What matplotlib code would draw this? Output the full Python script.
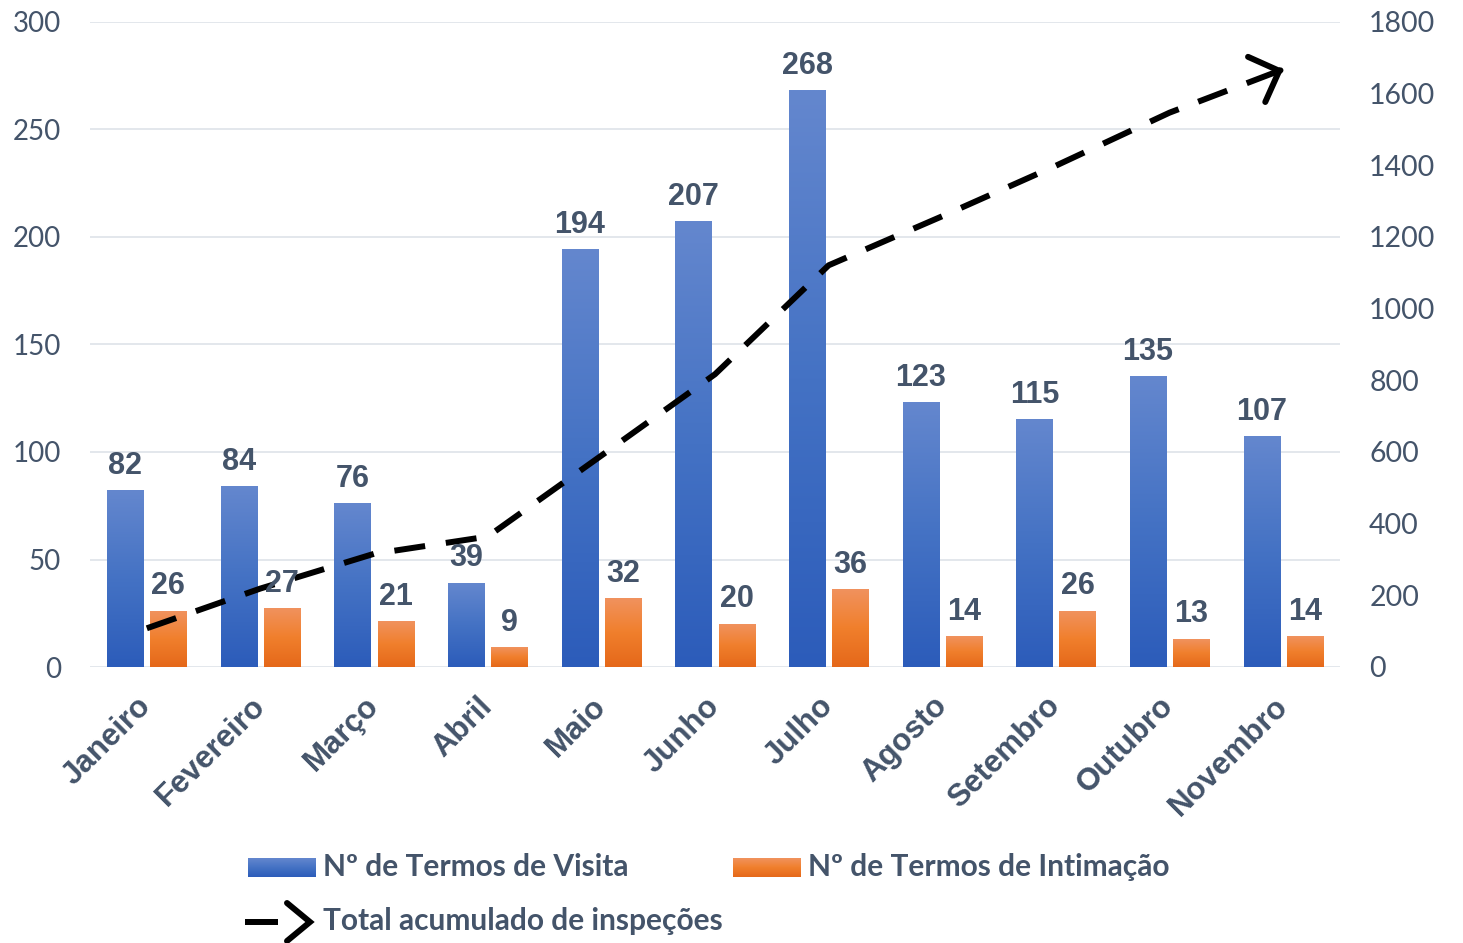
import matplotlib.pyplot as plt
import numpy as np
from matplotlib.colors import LinearSegmentedColormap

meses = ['Janeiro', 'Fevereiro', 'Março', 'Abril', 'Maio', 'Junho', 'Julho',
         'Agosto', 'Setembro', 'Outubro', 'Novembro']
termos_visita = [82, 84, 76, 39, 194, 207, 268, 123, 115, 135, 107]
termos_intimacao = [26, 27, 21, 9, 32, 20, 36, 14, 26, 13, 14]
total_acumulado = [108, 219, 316, 364, 590, 817, 1121, 1258, 1399, 1547, 1668]

left_ticks = [0, 50, 100, 150, 200, 250, 300]
right_ticks = [0, 200, 400, 600, 800, 1000, 1200, 1400, 1600, 1800]

TXT = '#44546A'
GRID = '#E1E5EB'
cmap_azul = LinearSegmentedColormap.from_list('azul', ['#2C5CBA', '#4472C4', '#6487CE'])
cmap_laranja = LinearSegmentedColormap.from_list('laranja', ['#E5681A', '#F07F2C', '#F1925E'])
grad = np.linspace(0, 1, 256).reshape(-1, 1)

W, H = 1463, 943
fig = plt.figure(figsize=(W / 100, H / 100), dpi=100)
ax = fig.add_axes([90 / W, 1 - 667 / H, 1250 / W, 645 / H])
ax2 = ax.twinx()

x = np.arange(len(meses))
largura = 0.317
off = 0.19

def barras_gradiente(pos, vals, cmap):
    rects = ax.bar(pos, vals, largura, color='none', zorder=2)
    for r in rects:
        x0, y0 = r.get_x(), r.get_y()
        ax.imshow(grad, extent=[x0, x0 + r.get_width(), y0, y0 + r.get_height()],
                  origin='lower', aspect='auto', cmap=cmap, zorder=2)
    return rects

barras_gradiente(x - off, termos_visita, cmap_azul)
barras_gradiente(x + off, termos_intimacao, cmap_laranja)

ax.set_xlim(-0.5, len(meses) - 0.5)
ax.set_ylim(0, 300)
ax.set_yticks(left_ticks)
ax.grid(axis='y', color=GRID, linewidth=1.3, zorder=0)
ax.set_axisbelow(True)
for s in ax.spines.values():
    s.set_visible(False)
for s in ax2.spines.values():
    s.set_visible(False)
ax.tick_params(axis='y', length=0, pad=21, labelsize=20, labelcolor=TXT)
ax.tick_params(axis='x', length=0, pad=25)
for lab in ax.get_yticklabels():
    lab.set_fontfamily('Lato')

ax.set_xticks(x)
ax.set_xticklabels(meses, rotation=45, ha='right', va='center', rotation_mode='anchor',
                   fontsize=22.5, fontweight='bold', color=TXT, family='Liberation Sans')

# linha acumulada (eixo direito)
ax2.set_ylim(0, 1800)
ax2.set_yticks(right_ticks)
ax2.tick_params(axis='y', length=0, pad=21, labelsize=20.5, labelcolor=TXT)
for lab in ax2.get_yticklabels():
    lab.set_fontfamily('Lato')
ax2.plot(x, total_acumulado, color='black', linewidth=4.3,
         linestyle=(0, (5.2, 3.5)), zorder=3)
xa = x[-2] + 0.97 * (x[-1] - x[-2])
ya = total_acumulado[-2] + 0.97 * (total_acumulado[-1] - total_acumulado[-2])
ax2.annotate('', xy=(x[-1], total_acumulado[-1]), xytext=(xa, ya),
             arrowprops=dict(arrowstyle='->, head_length=0.87, head_width=0.87',
                             color='black', lw=4.3, shrinkA=0, shrinkB=0,
                             mutation_scale=20, capstyle='round'))

# rótulos de dados por cima da linha
for xi, v in zip(x - off, termos_visita):
    ax2.annotate(str(v), xy=(xi, v), xycoords=ax.transData, xytext=(0, 12),
                 textcoords='offset points', ha='center', va='baseline',
                 fontsize=22, fontweight='bold', color=TXT, family='Liberation Sans', zorder=5)
for xi, v in zip(x + off, termos_intimacao):
    ax2.annotate(str(v), xy=(xi, v), xycoords=ax.transData, xytext=(0, 12),
                 textcoords='offset points', ha='center', va='baseline',
                 fontsize=22, fontweight='bold', color=TXT, family='Liberation Sans', zorder=5)

# legenda desenhada em coordenadas de pixel
lax = fig.add_axes([0, 0, 1, 1], zorder=-1)
lax.axis('off')
lax.imshow(grad[::-1], extent=[248, 316, 877, 858], aspect='auto', cmap=cmap_azul)
lax.imshow(grad[::-1], extent=[733, 801, 877, 858], aspect='auto', cmap=cmap_laranja)
lax.set_xlim(0, W)
lax.set_ylim(H, 0)
leg_kw = dict(fontsize=21.5, fontweight='bold', color=TXT, family='Lato', va='center', ha='left')
lax.text(323, 867, 'Nº de Termos de Visita', **leg_kw)
lax.text(808, 867, 'Nº de Termos de Intimação', **leg_kw)
lax.text(323, 921, 'Total acumulado de inspeções', **leg_kw)
lax.plot([245, 278], [922, 922], color='black', linewidth=4.3, solid_capstyle='butt')
lax.plot([287, 310, 287], [903, 922, 941], color='black', linewidth=4.3,
         solid_capstyle='round', solid_joinstyle='miter')

fig.savefig('out.png', dpi=100)
